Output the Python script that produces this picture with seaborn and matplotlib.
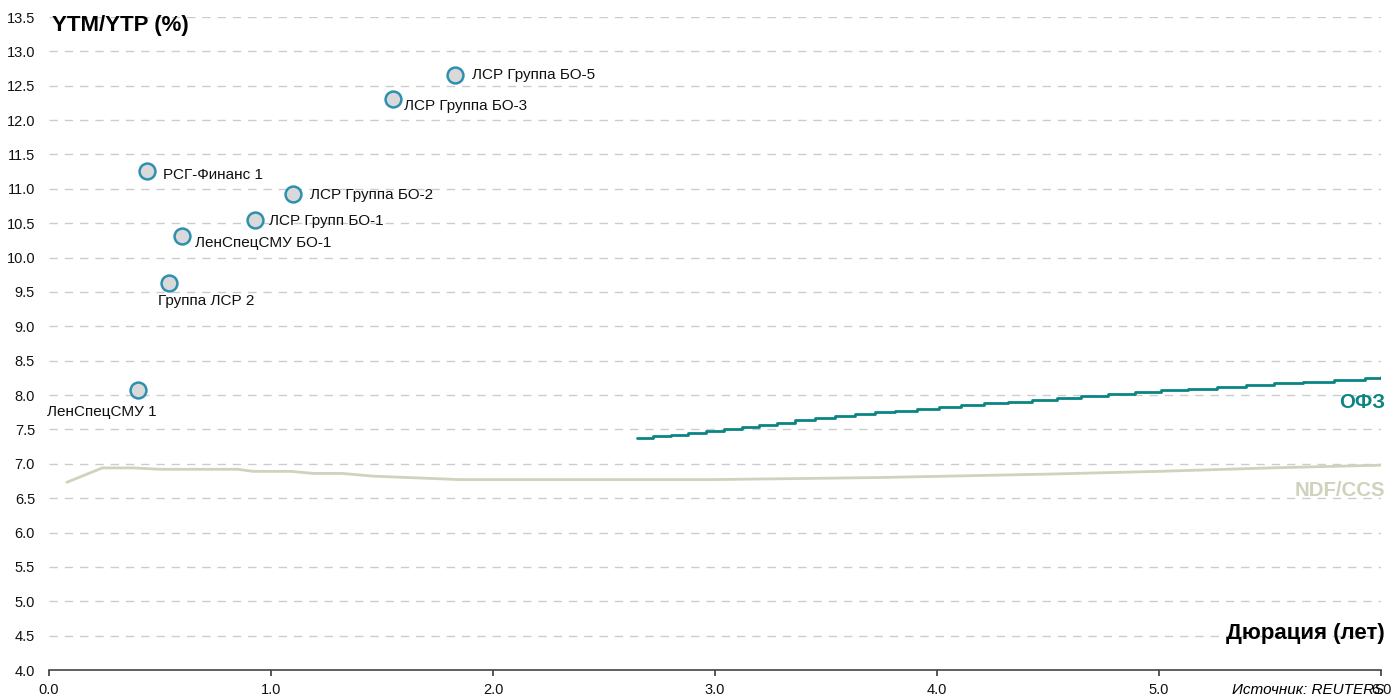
import matplotlib
matplotlib.use("Agg")
import matplotlib.pyplot as plt
import seaborn as sns
import pandas as pd

# bonds: duration (years) vs yield (%)
bond_names = [
    "ЛенСпецСМУ 1", "Группа ЛСР 2", "ЛенСпецСМУ БО-1", "РСГ-Финанс 1",
    "ЛСР Групп БО-1", "ЛСР Группа БО-2", "ЛСР Группа БО-3", "ЛСР Группа БО-5",
]
bond_dur = [0.40, 0.54, 0.60, 0.44, 0.93, 1.10, 1.55, 1.83]
bond_ytm = [8.07, 9.63, 10.31, 11.26, 10.55, 10.92, 12.31, 12.66]
# label offsets in pixels (dx, dy) and alignment
label_pos = [(-36, -22, "center"), (37, -18, "center"), (13, -7, "left"), (16, -4, "left"),
             (14, -1, "left"), (17, -1, "left"), (11, -7, "left"), (17, 0, "left")]

# OFZ curve (stepped)
ofz_dur = [2.65, 2.72, 2.80, 2.88, 2.96, 3.04, 3.12, 3.20, 3.28, 3.36, 3.45, 3.54,
           3.63, 3.72, 3.81, 3.91, 4.01, 4.11, 4.21, 4.32, 4.43, 4.54, 4.65, 4.77,
           4.89, 5.01, 5.13, 5.26, 5.39, 5.52, 5.65, 5.79, 5.93, 6.00]
ofz_ytm = [7.38, 7.40, 7.42, 7.45, 7.48, 7.51, 7.54, 7.57, 7.60, 7.63, 7.66, 7.69,
           7.72, 7.75, 7.77, 7.80, 7.83, 7.86, 7.88, 7.90, 7.93, 7.96, 7.99, 8.01,
           8.04, 8.07, 8.09, 8.12, 8.14, 8.17, 8.19, 8.22, 8.25, 8.26]

# NDF/CCS curve
ndf_dur = [0.08, 0.24, 0.38, 0.50, 0.85, 0.92, 1.09, 1.19, 1.32, 1.46, 1.85,
           2.99, 3.74, 4.50, 5.00, 5.50, 6.00]
ndf_ytm = [6.73, 6.94, 6.94, 6.92, 6.92, 6.89, 6.89, 6.86, 6.86, 6.82, 6.77,
           6.77, 6.80, 6.85, 6.89, 6.94, 6.98]

OFZ_C = "#0b8584"
NDF_C = "#cfd2bc"
EDGE_C = "#2f8fae"
TXT_C = "#111111"

sns.set_theme(style="white")
plt.rcParams["font.family"] = ["Liberation Sans", "DejaVu Sans"]
plt.rcParams["text.color"] = TXT_C
plt.rcParams["xtick.color"] = TXT_C
plt.rcParams["ytick.color"] = TXT_C

W, H = 1391, 700
fig = plt.figure(figsize=(W / 100, H / 100), dpi=100)
ax = fig.add_axes([49 / W, 1 - 670 / H, (1381 - 49) / W, (670 - 17) / H])

ndf = pd.DataFrame({"dur": ndf_dur, "ytm": ndf_ytm})
ofz = pd.DataFrame({"dur": ofz_dur, "ytm": ofz_ytm})
bonds = pd.DataFrame({"dur": bond_dur, "ytm": bond_ytm, "name": bond_names})

sns.lineplot(data=ndf, x="dur", y="ytm", ax=ax, color=NDF_C, linewidth=2, zorder=3)
sns.lineplot(data=ofz, x="dur", y="ytm", ax=ax, color=OFZ_C, linewidth=2,
             drawstyle="steps-post", zorder=3)
sns.scatterplot(data=bonds, x="dur", y="ytm", ax=ax, s=130, color="#d9d9d9",
                edgecolor=EDGE_C, linewidth=1.8, zorder=4)

for (name, x, y), (dx, dy, ha) in zip(zip(bond_names, bond_dur, bond_ytm), label_pos):
    ax.annotate(name, (x, y), xytext=(dx, dy), textcoords="offset pixels",
                ha=ha, va="center", fontsize=11, color=TXT_C)

ax.set_xlim(0, 6)
ax.set_ylim(4, 13.5)
ax.set_xticks([0, 1, 2, 3, 4, 5, 6])
ax.set_xticklabels(["0.0", "1.0", "2.0", "3.0", "4.0", "5.0", "6.0"])
yt = [4 + 0.5 * i for i in range(20)]
ax.set_yticks(yt)
ax.set_yticklabels([f"{v:.1f}" for v in yt])
for v in yt[1:]:
    ax.axhline(v, color="#cccccc", linewidth=1, linestyle=(0, (6, 5)), zorder=1)

for s in ["top", "right", "left"]:
    ax.spines[s].set_visible(False)
ax.spines["bottom"].set_color("#444444")
ax.spines["bottom"].set_linewidth(1.2)
ax.tick_params(axis="x", direction="out", length=4, color="#444444", labelsize=10.5,
               pad=5, bottom=True, labelcolor=TXT_C)
ax.tick_params(axis="y", length=0, labelsize=10.5, pad=10, labelcolor=TXT_C)
ax.set_xlabel("")
ax.set_ylabel("")

fig.text(52 / W, 1 - 25 / H, "YTM/YTP (%)", fontsize=16, fontweight="bold",
         ha="left", va="center", color="black")
fig.text(1385 / W, 1 - 633 / H, "Дюрация (лет)", fontsize=16, fontweight="bold",
         ha="right", va="center", color="black")
fig.text(1385 / W, 1 - 403 / H, "ОФЗ", fontsize=14.7, fontweight="bold",
         ha="right", va="center", color=OFZ_C)
fig.text(1385 / W, 1 - 491 / H, "NDF/CCS", fontsize=14.7, fontweight="bold",
         ha="right", va="center", color=NDF_C)
fig.text(1232 / W, 1 - 690 / H, "Источник: REUTERS", fontsize=11,
         style="italic", ha="left", va="center", color="black")

fig.savefig("out.png", dpi=100)
